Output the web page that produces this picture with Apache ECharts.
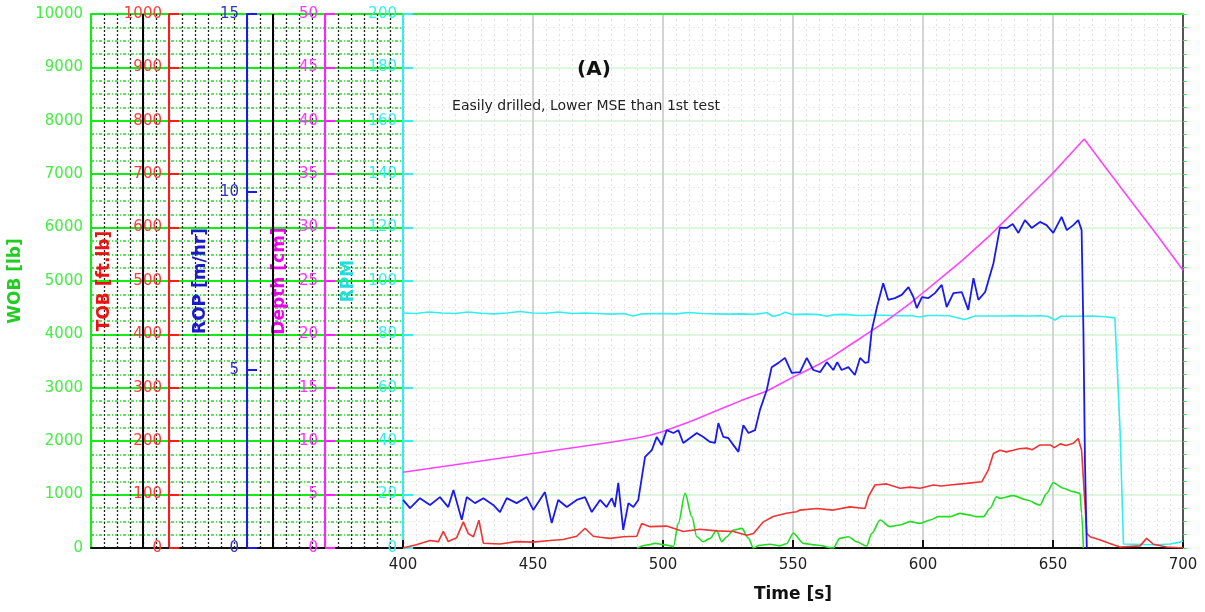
<!DOCTYPE html>
<html>
<head>
<meta charset="utf-8">
<script src="https://cdn.jsdelivr.net/npm/echarts@6/dist/echarts.min.js"></script>
<style>html,body{margin:0;padding:0;background:#fff}#c{width:1205px;height:612px}</style>
</head>
<body>
<div id="c"></div>
<script>
// ---- data: [time s, value] ----
const ropData = [[400,1.35],[402.7,1.12],[406.5,1.40],[410.4,1.21],[414.2,1.43],[417.4,1.15],[419.4,1.63],[422.6,0.79],[424.5,1.43],[427.7,1.26],[430.9,1.40],[434.7,1.21],[437.3,1.01],[439.9,1.40],[443.7,1.26],[447.6,1.43],[450.1,1.07],[454.6,1.57],[457.2,0.70],[459.7,1.35],[463,1.15],[466.8,1.35],[470,1.43],[472.6,1.01],[475.8,1.35],[478.3,1.15],[480.3,1.40],[481.5,1.15],[482.8,1.83],[484.7,0.51],[486.7,1.26],[488.6,1.15],[490.5,1.35],[493.1,2.56],[495.7,2.75],[497.6,3.12],[499.5,2.89],[501.4,3.31],[504,3.23],[505.9,3.31],[507.8,2.95],[510.4,3.09],[513,3.23],[515.5,3.12],[518.1,2.98],[520,2.95],[521.3,3.51],[523.2,3.12],[525.1,3.09],[527.1,2.89],[529,2.70],[530.9,3.45],[532.9,3.23],[535.4,3.31],[537.3,3.88],[539.9,4.44],[541.8,5.08],[544.4,5.20],[546.9,5.34],[549.5,4.92],[552.7,4.94],[555.3,5.34],[557.8,5.00],[560.4,4.94],[563,5.22],[565.5,5.00],[567,5.22],[568.7,5.00],[571.3,5.08],[573.8,4.86],[575.8,5.34],[577.7,5.20],[579,5.22],[580.3,6.12],[582.3,6.77],[584.7,7.44],[586.6,6.97],[589.2,7.02],[591.8,7.11],[594.4,7.33],[596.3,7.05],[597.6,6.74],[599.6,7.05],[602.1,7.02],[604.6,7.16],[607.2,7.39],[609.1,6.77],[611.7,7.16],[614.9,7.19],[617.4,6.69],[619.4,7.58],[621.3,6.97],[623.9,7.19],[627.1,8.00],[629.6,9.00],[632.2,8.99],[634.5,9.10],[636.7,8.85],[639.2,9.21],[641.8,8.99],[645,9.16],[647.5,9.07],[650.1,8.85],[653.3,9.30],[655.3,8.93],[657.8,9.07],[659.7,9.21],[661,8.93],[661.7,6.1],[662.3,2.4],[663,0]];
const tobData = [[400,0],[405.1,6],[410.4,14],[413.6,12],[415.5,31],[417.4,12],[420.6,19],[423.2,49],[425.1,27],[427.1,21],[429.2,52],[430.9,9],[437.3,7.5],[443.7,12],[450.1,11],[456.5,14],[461.6,16],[466.8,22],[470,37],[473.2,22],[475.8,20],[479.6,18],[484.7,21],[489.9,22],[491.8,46],[495,40],[501.4,41],[507.8,31],[514.2,35],[520.6,32],[527.1,31],[532.2,24],[534.8,27],[538.6,49],[542.4,59],[547.5,65],[551.4,68],[552.7,71],[559.1,74],[565.5,71],[571.9,77],[577.7,74],[579,96],[581.5,118],[586,120],[591.2,112],[595,114],[598.8,112],[604,118],[607,116],[610.4,118],[616.8,121],[622.6,124],[625.1,146],[627.1,177],[629.6,183],[632,180],[634.7,183],[637,186],[639.9,187],[642,184],[645,193],[648.9,193],[650.5,188],[652.8,195],[655,192],[657.8,196],[659.7,205],[661,183],[663,27],[664.3,21],[668.2,15],[673.2,6],[675.8,2],[683.5,4],[686,18],[688.6,7],[693.7,2],[700,0]];
const wobData = [[490,0],[493.8,56],[497,87],[501.4,56],[504,25],[505.9,462],[508.5,1024],[511.1,587],[513,212],[515.5,118],[518.1,181],[520.6,330],[522.6,118],[524.5,212],[527.1,337],[530.3,368],[532.9,181],[534.8,0],[537,50],[541,70],[545,40],[547.5,80],[550.1,275],[554,87],[559.1,56],[565.5,0],[568,181],[571.3,212],[574.4,118],[578.3,37],[580.3,275],[583.5,524],[587.3,400],[591.2,431],[595,493],[598.8,462],[602.7,524],[605.9,587],[610.4,587],[614.2,649],[617.5,620],[620.6,587],[623.2,587],[625.8,743],[628.3,961],[629.6,930],[634.7,980],[639.9,899],[645,805],[647.6,1024],[650.1,1223],[654,1118],[657.8,1055],[660.4,1024],[661,649],[661.7,0]];
const depthData = [[400,7.1],[420,7.8],[440,8.5],[460,9.2],[480,9.9],[490,10.3],[495,10.55],[500,10.9],[505,11.35],[510,11.8],[515,12.3],[520,12.8],[525,13.3],[530,13.8],[535,14.25],[540,14.7],[545,15.35],[550,16.0],[555,16.6],[560,17.2],[565,17.9],[570,18.7],[575,19.5],[580,20.3],[585,21.1],[590,22.0],[595,22.9],[600,23.9],[605,24.9],[610,25.9],[615,26.9],[620,28.0],[625,29.1],[630,30.3],[635,31.5],[640,32.7],[645,33.9],[650,35.1],[656,36.7],[662,38.3],[670,35.7],[680,32.5],[690,29.3],[700,26.0]];
const rpmData = [[400,88],[405,87.8],[410,88.4],[415,88],[420,87.8],[425,88.4],[430,87.9],[435,87.7],[440,88],[445,88.6],[450,88],[455,87.9],[460,88.4],[465,87.8],[470,88],[475,87.8],[480,87.6],[485,87.8],[488.5,86.9],[492,87.7],[500,87.8],[505,87.7],[510,88.2],[515,87.8],[520,87.7],[525,87.6],[530,87.7],[535,87.5],[540,88.1],[542.3,86.7],[545,87.4],[547,88.3],[550,87.4],[555,87.6],[560,87.4],[563,86.8],[566,87.4],[570,87.5],[575,87.1],[580,87.2],[585,87.2],[590,87.0],[595,87.1],[598.8,86.5],[602,87.1],[605,87.1],[610,87.0],[616,85.6],[620,86.9],[625,86.9],[630,86.9],[635,87.0],[640,86.9],[645,87.0],[648,86.8],[650.8,85.4],[653,86.8],[660,86.8],[665,86.9],[670,86.6],[673.8,86.2],[675.8,44],[677.1,1.5],[685,1.3],[690,1.2],[695,1.5],[698,2.0],[700,2.6]];
const panelLines = [4, 14];

const FF = 'DejaVu Sans';
const chart = echarts.init(document.getElementById('c'));

function sideAxis(o) {
  return {
    type: 'value', gridIndex: 1, position: 'left', offset: o.offset,
    min: o.min, max: o.max, interval: o.interval,
    name: o.name, nameLocation: 'middle', nameRotate: 90, nameGap: o.nameGap,
    nameTextStyle: {color: o.nameColor, fontFamily: FF, fontWeight: 'bold', fontSize: 17},
    axisLine: {show: true, onZero: false, lineStyle: {color: o.lineColor, width: 2}},
    axisTick: {show: o.tick !== false, inside: true, length: 10, lineStyle: {color: o.lineColor, width: 2}},
    axisLabel: {color: o.labelColor, fontFamily: FF, fontSize: 15, margin: o.margin || 7,
      formatter: v => String(v)},
    splitLine: {show: false}
  };
}

const option = {
  animation: false,
  backgroundColor: '#fff',
  title: [
    {text: '(A)', left: 589, top: 55, textAlign: 'center',
     textStyle: {fontFamily: FF, fontSize: 20, fontWeight: 'bold', color: '#111'}},
    {text: 'Easily drilled, Lower MSE than 1st test', left: 581, top: 94, textAlign: 'center',
     textStyle: {fontFamily: FF, fontSize: 14, fontWeight: 'normal', color: '#222'}}
  ],
  grid: [
    {left: 91, right: 802, top: 14, bottom: 64, containLabel: false, outerBoundsMode: 'none'},
    {left: 403, right: 22, top: 14, bottom: 64, containLabel: false, outerBoundsMode: 'none'}
  ],
  xAxis: [
    {type: 'value', gridIndex: 0, min: 0, max: 24, interval: 1,
     axisLine: {show: true, onZero: false, lineStyle: {color: '#111', width: 2}},
     axisTick: {show: false}, axisLabel: {show: false},
     splitLine: {show: true, lineStyle: {color: '#222', type: [2, 2], width: 1.3}}},
    {type: 'value', gridIndex: 1, min: 400, max: 700, interval: 50,
     name: 'Time [s]', nameLocation: 'middle', nameGap: 38,
     nameTextStyle: {color: '#111', fontFamily: FF, fontWeight: 'bold', fontSize: 17},
     axisLine: {show: true, onZero: false, lineStyle: {color: '#111', width: 2}},
     axisTick: {show: true, inside: true, length: 8, lineStyle: {color: '#111', width: 2}},
     axisLabel: {color: '#222', fontFamily: FF, fontSize: 15, margin: 10},
     splitLine: {show: true, lineStyle: {color: '#d4d4d4', width: 2}},
     minorTick: {show: false, splitNumber: 10},
     minorSplitLine: {show: true, lineStyle: {color: '#e2e2e2', type: [2, 3], width: 1}}},
    {type: 'value', gridIndex: 1, position: 'top', min: 400, max: 700,
     axisLine: {show: true, onZero: false, lineStyle: {color: '#22ee22', width: 2}},
     axisTick: {show: false}, axisLabel: {show: false}, splitLine: {show: false}}
  ],
  yAxis: [
    {type: 'value', gridIndex: 0, min: 0, max: 10000, interval: 1000,
     axisLine: {show: false}, axisTick: {show: false}, axisLabel: {show: false},
     splitLine: {show: true, lineStyle: {color: '#11ee11', width: 2}},
     minorTick: {show: false, splitNumber: 4},
     minorSplitLine: {show: true, lineStyle: {color: '#22dd22', type: [3, 2, 1, 2], width: 1.5}}},
    Object.assign(sideAxis({offset: 312, min: 0, max: 10000, interval: 1000, name: 'WOB [lb]', nameGap: 63,
      nameColor: '#22cc22', lineColor: '#11ee11', labelColor: '#44ee44', tick: false, margin: 8}), {
      splitLine: {show: true, lineStyle: {color: '#d2f5d2', width: 1.5}},
      minorTick: {show: false, splitNumber: 4},
      minorSplitLine: {show: true, lineStyle: {color: '#e6efe6', type: [2, 3], width: 1}}
    }),
    sideAxis({offset: 234, min: 0, max: 1000, interval: 100, name: 'TOB [ft.lb]', nameGap: 52,
      nameColor: '#ee1111', lineColor: '#ff1a1a', labelColor: '#ff3b3b'}),
    sideAxis({offset: 156, min: 0, max: 15, interval: 5, name: 'ROP [m/hr]', nameGap: 37,
      nameColor: '#1a1acc', lineColor: '#1a1aee', labelColor: '#3333cc', margin: 8}),
    sideAxis({offset: 78, min: 0, max: 50, interval: 5, name: 'Depth [cm]', nameGap: 32,
      nameColor: '#ee00ee', lineColor: '#ff22ff', labelColor: '#ff33ff'}),
    sideAxis({offset: 0, min: 0, max: 200, interval: 20, name: 'RPM', nameGap: 46,
      nameColor: '#22dddd', lineColor: '#33eeee', labelColor: '#33eeee', margin: 6}),
    {type: 'value', gridIndex: 1, position: 'right', min: 0, max: 10000, interval: 250,
     axisLine: {show: true, onZero: false, lineStyle: {color: '#555', width: 2}},
     axisTick: {show: true, inside: false, length: 4, lineStyle: {color: '#55dd55', width: 1}},
     axisLabel: {show: false}, splitLine: {show: false}}
  ],
  series: [
    {type: 'line', xAxisIndex: 0, yAxisIndex: 0, data: [], silent: true,
     markLine: {silent: true, symbol: 'none', label: {show: false},
       lineStyle: {color: '#000', type: 'solid', width: 2},
       data: panelLines.map(v => ({xAxis: v}))}},
    {name: 'RPM', type: 'line', xAxisIndex: 1, yAxisIndex: 5, data: rpmData, showSymbol: false,
     lineStyle: {color: '#33eeee', width: 1.6}},
    {name: 'WOB', type: 'line', xAxisIndex: 1, yAxisIndex: 1, data: wobData, showSymbol: false, smooth: 0.3,
     smoothMonotone: 'x', lineStyle: {color: '#22dd22', width: 1.6}},
    {name: 'TOB', type: 'line', xAxisIndex: 1, yAxisIndex: 2, data: tobData, showSymbol: false,
     lineStyle: {color: '#f03333', width: 1.6}},
    {name: 'Depth', type: 'line', xAxisIndex: 1, yAxisIndex: 4, data: depthData, showSymbol: false,
     lineStyle: {color: '#ff44ff', width: 1.6}},
    {name: 'ROP', type: 'line', xAxisIndex: 1, yAxisIndex: 3, data: ropData, showSymbol: false,
     lineStyle: {color: '#1a1aee', width: 1.8}}
  ]
};
chart.setOption(option);
</script>
</body>
</html>
